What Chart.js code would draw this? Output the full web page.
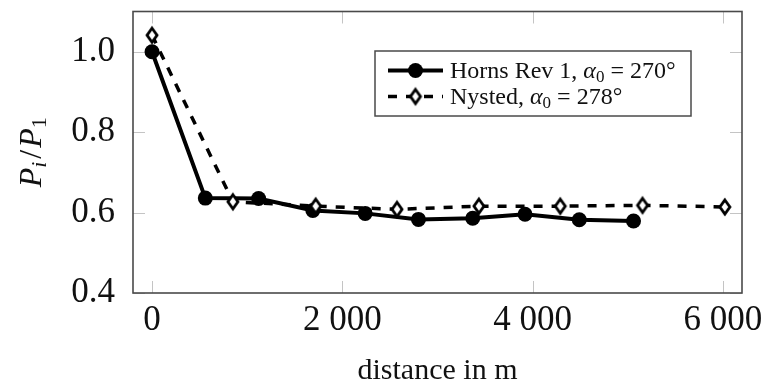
<!DOCTYPE html>
<html>
<head>
<meta charset="utf-8">
<script src="https://cdn.jsdelivr.net/npm/chart.js@4.4.0/dist/chart.umd.min.js"></script>
<style>
  html, body { margin: 0; padding: 0; background: #fff; }
  #wrap { width: 767px; height: 383px; }
</style>
</head>
<body>
<div id="wrap"><canvas id="chart" width="767" height="383"></canvas></div>
<script>
// values: distance in m, power ratio Pi/P1
var hornsDist = [0, 560, 1120, 1690, 2240, 2800, 3370, 3920, 4490, 5060];
var hornsPower = [1.0, 0.636, 0.635, 0.605, 0.598, 0.583, 0.586, 0.596, 0.582, 0.579];
var nystedDist = [0, 850, 1720, 2575, 3435, 4290, 5155, 6020];
var nystedPower = [1.041, 0.627, 0.616, 0.608, 0.616, 0.616, 0.618, 0.614];
var seriesNames = ["Horns Rev 1", "Nysted"];
var seriesAngles = ["270°", "278°"];
var xTicks = [0, 2000, 4000, 6000];
var yTicks = [0.4, 0.6, 0.8, 1.0];

var SERIF = "'Liberation Serif', 'DejaVu Serif', serif";

function toPoints(xs, ys) {
    return xs.map(function (x, i) { return { x: x, y: ys[i] }; });
}

// open diamond marker (taller than wide, like pgfplots)
function diamondMark() {
    var c = document.createElement('canvas');
    c.width = 18; c.height = 22;
    var g = c.getContext('2d');
    g.beginPath();
    g.moveTo(9, 4); g.lineTo(14, 11); g.lineTo(9, 18); g.lineTo(4, 11); g.closePath();
    g.fillStyle = '#fff'; g.fill();
    g.lineWidth = 2.8; g.strokeStyle = '#000'; g.stroke();
    return c;
}
var diamond = diamondMark();

function drawRuns(ctx, runs, x, y) {
    runs.forEach(function (r) {
        ctx.font = r.font;
        ctx.fillText(r.text, x, y + (r.dy || 0));
        x += ctx.measureText(r.text).width + (r.gap || 0);
    });
    return x;
}
function runsWidth(ctx, runs) {
    var w = 0;
    runs.forEach(function (r) { ctx.font = r.font; w += ctx.measureText(r.text).width + (r.gap || 0); });
    return w;
}

var decor = {
    id: 'decor',
    beforeDatasetsDraw: function (chart) {
        var ctx = chart.ctx, a = chart.chartArea;
        var xs = chart.scales.x, ys = chart.scales.y;
        ctx.save();
        ctx.strokeStyle = '#c4c4c4';
        ctx.lineWidth = 1;
        ctx.beginPath();
        xTicks.forEach(function (v) {
            var px = Math.round(xs.getPixelForValue(v)) + 0.5;
            ctx.moveTo(px, a.bottom); ctx.lineTo(px, a.bottom - 12);
            ctx.moveTo(px, a.top); ctx.lineTo(px, a.top + 12);
        });
        yTicks.forEach(function (v) {
            var py = Math.round(ys.getPixelForValue(v)) + 0.5;
            ctx.moveTo(a.left, py); ctx.lineTo(a.left + 12, py);
            ctx.moveTo(a.right, py); ctx.lineTo(a.right - 12, py);
        });
        ctx.stroke();
        ctx.restore();
    },
    afterDraw: function (chart) {
        var ctx = chart.ctx, a = chart.chartArea;
        ctx.save();
        // axis frame
        ctx.strokeStyle = '#4a4a4a';
        ctx.lineWidth = 1.6;
        ctx.strokeRect(a.left, a.top, a.right - a.left, a.bottom - a.top);

        // y axis title  P_i / P_1
        ctx.fillStyle = '#111';
        ctx.textBaseline = 'alphabetic';
        var yt = [
            { text: 'P', font: 'italic 32px ' + SERIF },
            { text: 'i', font: 'italic 22px ' + SERIF, dy: 5, gap: 3 },
            { text: '/', font: '32px ' + SERIF, gap: 2 },
            { text: 'P', font: 'italic 32px ' + SERIF },
            { text: '1', font: '22px ' + SERIF, dy: 5 }
        ];
        ctx.save();
        ctx.translate(30, (a.top + a.bottom) / 2);
        ctx.rotate(-Math.PI / 2);
        drawRuns(ctx, yt, -runsWidth(ctx, yt) / 2, 11);
        ctx.restore();

        // legend
        var lx = 375, ly = 51, lw = 316, lh = 65;
        ctx.fillStyle = '#fff';
        ctx.fillRect(lx, ly, lw, lh);
        ctx.strokeStyle = '#4a4a4a';
        ctx.lineWidth = 1.5;
        ctx.strokeRect(lx, ly, lw, lh);
        chart.data.datasets.forEach(function (ds, i) {
            var ry = 70.5 + i * 26;
            ctx.save();
            ctx.strokeStyle = '#000';
            ctx.lineWidth = ds.borderWidth;
            ctx.setLineDash(ds.borderDash || []);
            ctx.beginPath();
            ctx.moveTo(388, ry); ctx.lineTo(443, ry);
            ctx.stroke();
            ctx.restore();
            if (ds.pointStyle === 'circle') {
                ctx.fillStyle = '#000';
                ctx.beginPath();
                ctx.arc(415.5, ry, ds.pointRadius, 0, Math.PI * 2);
                ctx.fill();
            } else {
                ctx.drawImage(diamond, 415.5 - diamond.width / 2, ry - diamond.height / 2);
            }
            ctx.fillStyle = '#111';
            drawRuns(ctx, [
                { text: seriesNames[i] + ', ', font: '24px ' + SERIF },
                { text: 'α', font: 'italic 24px ' + SERIF },
                { text: '0', font: '17px ' + SERIF, dy: 4 },
                { text: ' = ' + seriesAngles[i], font: '24px ' + SERIF }
            ], 450, ry + 7.5);
        });
        ctx.restore();
    }
};

var ctx = document.getElementById('chart').getContext('2d');
var chart = new Chart(ctx, {
    type: 'line',
    data: {
        datasets: [
            {
                label: seriesNames[0],
                data: toPoints(hornsDist, hornsPower),
                borderColor: '#000',
                backgroundColor: '#000',
                borderWidth: 4,
                pointStyle: 'circle',
                pointRadius: 7.5,
                pointBorderWidth: 0,
                pointBackgroundColor: '#000',
                tension: 0,
                order: 1
            },
            {
                label: seriesNames[1],
                data: toPoints(nystedDist, nystedPower),
                borderColor: '#000',
                borderWidth: 3.5,
                borderDash: [9, 9],
                pointStyle: diamond,
                pointRadius: 8,
                tension: 0,
                order: 0
            }
        ]
    },
    options: {
        responsive: false,
        animation: false,
        devicePixelRatio: 1,
        layout: { padding: { top: 8, right: 25, left: 0, bottom: 0 } },
        plugins: { legend: { display: false }, tooltip: { enabled: false } },
        scales: {
            x: {
                type: 'linear',
                min: -200,
                max: 6200,
                afterBuildTicks: function (s) { s.ticks = xTicks.map(function (v) { return { value: v }; }); },
                afterFit: function (s) { s.height = 90; s.paddingLeft = 0; s.paddingRight = 0; },
                grid: { display: false },
                border: { display: false },
                ticks: {
                    autoSkip: false,
                    maxRotation: 0,
                    padding: -1,
                    color: '#111',
                    font: { family: SERIF, size: 35 },
                    callback: function (v) {
                        return v >= 1000 ? Math.floor(v / 1000) + ' ' + String(v % 1000).padStart(3, '0') : String(v);
                    }
                },
                title: {
                    display: true,
                    text: 'distance in m',
                    color: '#111',
                    font: { family: SERIF, size: 30 },
                    padding: { top: 0, bottom: -6 }
                }
            },
            y: {
                min: 0.4,
                max: 1.1,
                afterBuildTicks: function (s) { s.ticks = yTicks.map(function (v) { return { value: v }; }); },
                afterFit: function (s) { s.width = 133; s.paddingTop = 0; s.paddingBottom = 0; },
                grid: { display: false },
                border: { display: false },
                ticks: {
                    padding: 10,
                    color: '#111',
                    font: { family: SERIF, size: 35 },
                    callback: function (v) { return v.toFixed(1); }
                }
            }
        }
    },
    plugins: [decor]
});
</script>
</body>
</html>
